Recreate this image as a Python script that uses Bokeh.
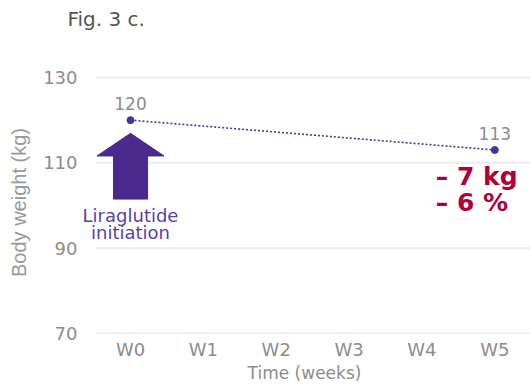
from bokeh.plotting import figure
from bokeh.models import (ColumnDataSource, LabelSet, Label, Range1d, FixedTicker, Title)
from bokeh.core.properties import value
from bokeh.embed import file_html
from bokeh.resources import INLINE

# Weekly body weight data
week_labels = ["W0", "W1", "W2", "W3", "W4", "W5"]
measured_week = [0, 5]
body_weight_kg = [120, 113]
y_ticks = [70, 90, 110, 130]

change_kg = body_weight_kg[-1] - body_weight_kg[0]
change_pct = round(100 * change_kg / body_weight_kg[0])

PURPLE = "#4a3596"
ARROW = "#4a2a8c"
CRIMSON = "#b0003a"
GREY = "#8c8c8c"
FONT = "DejaVu Sans"

X_START, X_END = -0.714, 5.49
Y_START, Y_END = 69.76, 131.63
GRID_START = -0.48

p = figure(width=530, height=385, output_backend="svg", toolbar_location=None,
           x_range=Range1d(X_START, X_END), y_range=Range1d(Y_START, Y_END),
           min_border_left=78, min_border_right=0, min_border_top=70,
           min_border_bottom=50)
p.outline_line_color = None
p.background_fill_color = "white"
p.border_fill_color = "white"

# empty spacer between the plot area and the caption
p.add_layout(Title(text=" ", text_font_size="1px", standoff=35), "above")
p.add_layout(Title(text="Fig. 3 c.", text_font=FONT, text_font_size="20px",
                   text_color="#555555", text_font_style="normal", offset=-11,
                   standoff=4), "above")

# axes
p.xaxis.ticker = FixedTicker(ticks=list(range(len(week_labels))))
p.xaxis.major_label_overrides = {i: w for i, w in enumerate(week_labels)}
p.yaxis.ticker = FixedTicker(ticks=y_ticks)
for ax in (p.xaxis[0], p.yaxis[0]):
    ax.axis_line_color = None
    ax.major_tick_line_color = None
    ax.minor_tick_line_color = None
    ax.major_tick_out = 0
    ax.major_tick_in = 0
    ax.minor_tick_out = 0
    ax.minor_tick_in = 0
    ax.major_label_text_font = FONT
    ax.major_label_text_font_size = "18px"
    ax.major_label_text_color = GREY
    ax.axis_label_text_font_style = "normal"
    ax.axis_label_text_color = GREY
p.xaxis.axis_label = "Time (weeks)"
p.xaxis.axis_label_text_font = FONT
p.xaxis.axis_label_text_font_size = "17px"
p.xaxis.major_label_standoff = 4
p.xaxis.axis_label_standoff = 0
p.yaxis.axis_label = "Body weight (kg)"
p.yaxis.axis_label_text_font = "Liberation Sans"
p.yaxis.axis_label_text_font_size = "20px"
p.yaxis.axis_label_text_color = "#999999"
p.yaxis.major_label_standoff = 1
p.yaxis.axis_label_standoff = 10

# horizontal gridlines, drawn so that they begin just left of W0
p.xgrid.grid_line_color = None
p.ygrid.grid_line_color = None
p.segment(x0=[GRID_START] * len(y_ticks), x1=[X_END] * len(y_ticks),
          y0=y_ticks, y1=y_ticks, line_color="#ececec", line_width=2)

# initiation arrow at W0 (data units)
x0 = measured_week[0]
shaft_hw, head_hw = 0.234, 0.46
tip_y, head_base_y, shaft_bottom_y = 116.9, 111.6, 101.5
p.patch([x0 - shaft_hw, x0 - shaft_hw, x0 - head_hw, x0, x0 + head_hw, x0 + shaft_hw, x0 + shaft_hw],
        [shaft_bottom_y, head_base_y, head_base_y, tip_y, head_base_y, head_base_y, shaft_bottom_y],
        fill_color=ARROW, line_color=ARROW)

src = ColumnDataSource(dict(x=measured_week, y=body_weight_kg,
                            txt=[str(v) for v in body_weight_kg]))
p.line("x", "y", source=src, line_color=PURPLE, line_width=1.6, line_dash="2 2")
p.scatter("x", "y", source=src, size=7, fill_color=PURPLE, line_color=PURPLE)
p.add_layout(LabelSet(x="x", y="y", text="txt", source=src, y_offset=10,
                      text_align="center", text_baseline="bottom",
                      text_font=value(FONT), text_font_size="17px", text_color=GREY))

for i, line in enumerate(["Liraglutide", "initiation"]):
    p.add_layout(Label(x=x0, y=shaft_bottom_y, y_offset=-16 - 17 * i, text=line,
                       text_align="center", text_baseline="middle",
                       text_font=FONT, text_font_size="18px", text_color="#5a3fa6"))

for i, line in enumerate([f"\u2013 {abs(change_kg)} kg", f"\u2013 {abs(change_pct)} %"]):
    p.add_layout(Label(x=measured_week[-1], y=body_weight_kg[-1], x_offset=-59,
                       y_offset=-27 - 26 * i, text=line, text_align="left",
                       text_baseline="alphabetic", text_font=FONT,
                       text_font_style="bold", text_font_size="25px",
                       text_color=CRIMSON))

open("out.html", "w").write(file_html(p, INLINE))
